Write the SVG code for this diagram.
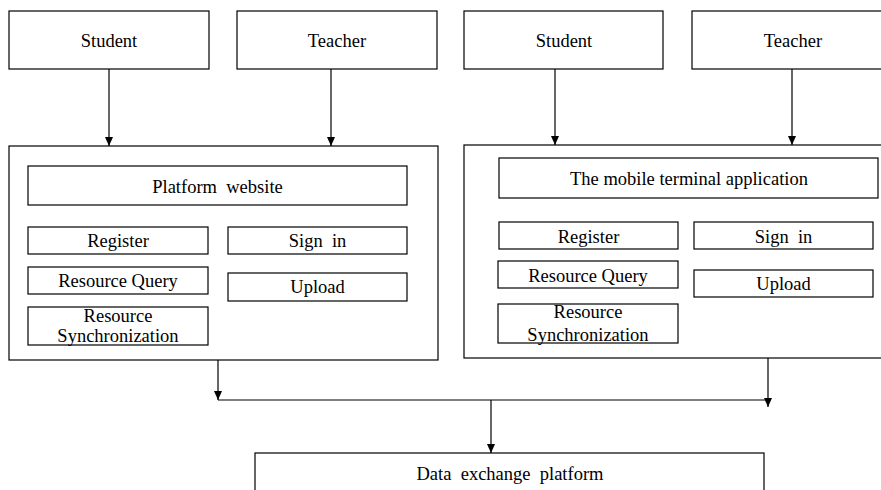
<svg xmlns="http://www.w3.org/2000/svg" width="881" height="490" viewBox="0 0 881 490">
<defs>
<marker id="ah" markerWidth="10" markerHeight="10" refX="9" refY="4" orient="auto" markerUnits="userSpaceOnUse">
<path d="M0,0 L9,4 L0,8 Z" fill="#000"/>
</marker>
<style>
rect{fill:#fff;stroke:#000;stroke-width:1.2}
text{font-family:"Liberation Serif","Times New Roman",serif;font-size:18.5px;fill:#000;text-anchor:middle;white-space:pre}
.c{stroke:#000;stroke-width:1.2;fill:none}
</style>
</defs>
<rect x="0" y="0" width="881" height="490" style="stroke:none"/>
<g id="connectors">
<line class="c" x1="109" y1="69" x2="109" y2="146" marker-end="url(#ah)"/>
<line class="c" x1="331" y1="69" x2="331" y2="146" marker-end="url(#ah)"/>
<line class="c" x1="555" y1="69" x2="555" y2="145" marker-end="url(#ah)"/>
<line class="c" x1="792" y1="69" x2="792" y2="145" marker-end="url(#ah)"/>
<line class="c" x1="218" y1="360" x2="218" y2="400" marker-end="url(#ah)"/>
<line class="c" x1="768" y1="358" x2="768" y2="407" marker-end="url(#ah)"/>
<line class="c" x1="218" y1="400" x2="768" y2="400"/>
<line class="c" x1="491" y1="400" x2="491" y2="453" marker-end="url(#ah)"/>
</g>
<g id="student1"><rect x="9" y="11" width="200" height="58"/><text x="109" y="47">Student</text></g>
<g id="teacher1"><rect x="237" y="11" width="200" height="58"/><text x="337" y="47">Teacher</text></g>
<g id="student2"><rect x="464" y="11" width="199" height="58"/><text x="564" y="47">Student</text></g>
<g id="teacher2"><rect x="692" y="11" width="202" height="58"/><text x="793" y="47">Teacher</text></g>
<g id="website">
<rect x="9" y="146" width="429" height="214"/>
<g id="website-title"><rect x="28" y="166" width="379" height="39"/><text x="217.5" y="193">Platform  website</text></g>
<g id="w-register"><rect x="28" y="227" width="180" height="27"/><text x="118" y="247">Register</text></g>
<g id="w-signin"><rect x="228" y="227" width="179" height="27"/><text x="317.5" y="247">Sign  in</text></g>
<g id="w-query"><rect x="28" y="267" width="180" height="27"/><text x="118" y="287">Resource Query</text></g>
<g id="w-upload"><rect x="228" y="273" width="179" height="28"/><text x="317.5" y="293">Upload</text></g>
<g id="w-sync"><rect x="28" y="307" width="180" height="38"/><text x="118" y="322">Resource</text><text x="118" y="342">Synchronization</text></g>
</g>
<g id="mobile">
<rect x="464" y="145" width="430" height="213"/>
<g id="mobile-title"><rect x="499" y="158" width="379" height="40"/><text x="689" y="185">The mobile terminal application</text></g>
<g id="m-register"><rect x="499" y="222" width="179" height="27"/><text x="588.5" y="243">Register</text></g>
<g id="m-signin"><rect x="694" y="222" width="179" height="27"/><text x="783.5" y="243">Sign  in</text></g>
<g id="m-query"><rect x="498" y="261" width="180" height="27"/><text x="588" y="282">Resource Query</text></g>
<g id="m-upload"><rect x="694" y="270" width="179" height="27"/><text x="783.5" y="290">Upload</text></g>
<g id="m-sync"><rect x="498" y="304" width="180" height="39"/><text x="588" y="318">Resource</text><text x="588" y="341">Synchronization</text></g>
</g>
<g id="exchange"><rect x="255" y="453" width="509" height="45"/><text x="510" y="480">Data  exchange  platform</text></g>
</svg>
